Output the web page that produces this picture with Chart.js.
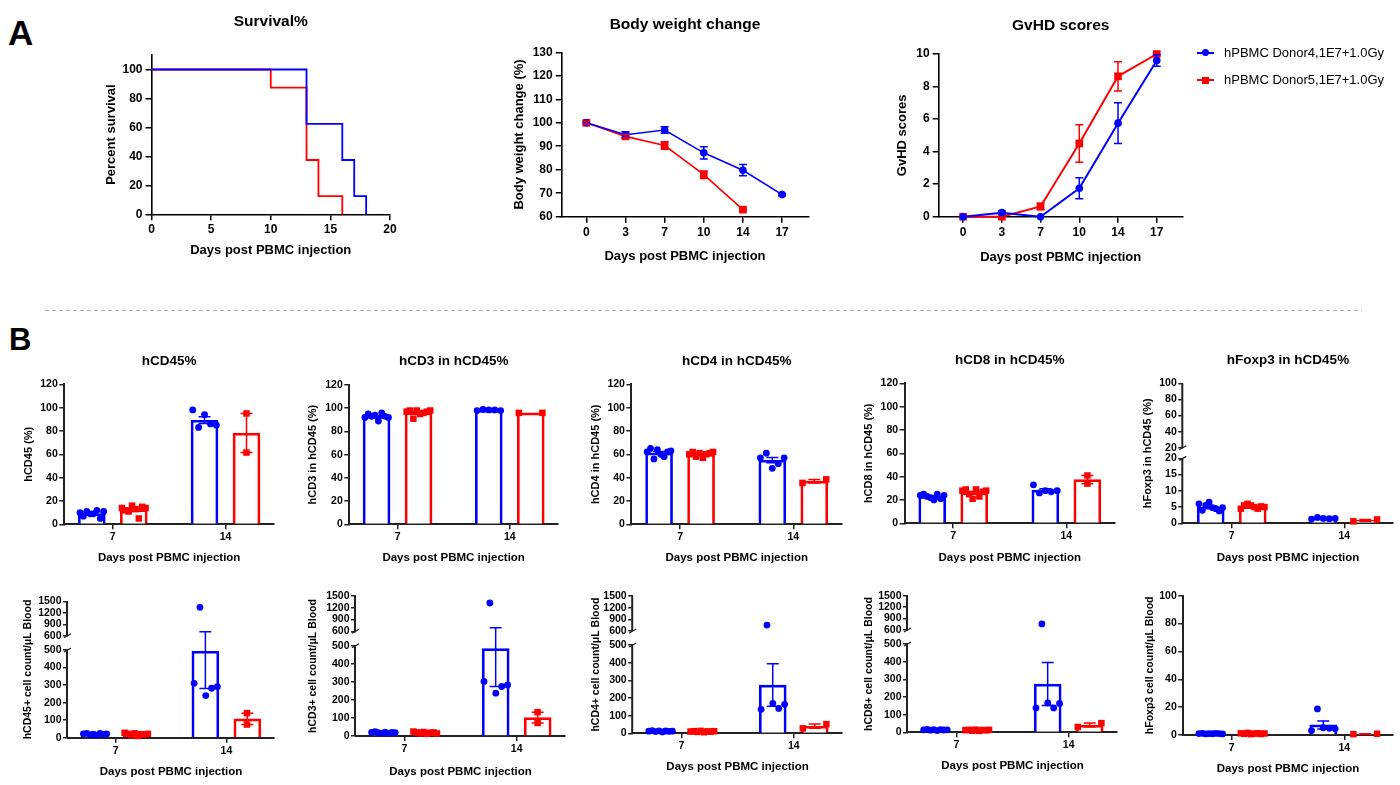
<!DOCTYPE html>
<html>
<head>
<meta charset="utf-8">
<script src="https://cdn.jsdelivr.net/npm/chart.js@4.4.1/dist/chart.umd.min.js"></script>
<style>
  html, body { margin: 0; padding: 0; background: #fff; }
  body { width: 1400px; height: 785px; position: relative; overflow: hidden;
         font-family: 'Liberation Sans', Arial, Helvetica, sans-serif; }
  canvas { position: absolute; }
  .tag { position: absolute; font-weight: bold; color: #000; }
  .leg { position: absolute; left: 1197px; height: 16px; }
  .leg .ln { position: absolute; left: 0; top: 7px; width: 17px; height: 2px; }
  .leg .mk { position: absolute; left: 5px; top: 4.5px; width: 7px; height: 7px; }
  .leg .tx { position: absolute; left: 27px; top: 0; font-size: 13px; line-height: 16px; white-space: nowrap; color: #000; }
  #sep { position: absolute; left: 45px; top: 310px; width: 1317px; height: 1px;
         background: repeating-linear-gradient(to right, #b4b4b4 0 4px, transparent 4px 7px); }
</style>
</head>
<body>
<div class="tag" style="left:8px;top:15px;font-size:35px;line-height:35px;">A</div>
<div class="tag" style="left:9px;top:324px;font-size:31px;line-height:31px;">B</div>
<div id="sep"></div>
<script>
const BLUE = 'rgb(0,0,255)';
const RED = 'rgb(255,0,0)';
const groupNames = ['hPBMC Donor4,1E7+1.0Gy', 'hPBMC Donor5,1E7+1.0Gy'];

// ---- A: survival (Kaplan-Meier steps) ----
const survTicksX = [0, 5, 10, 15, 20];
const survTicksY = [0, 20, 40, 60, 80, 100];
const survDaysBlue = [0, 13, 16, 17, 18];
const survPctBlue = [100, 62.5, 37.5, 12.5, 0];
const survDaysRed = [0, 10, 13, 14, 16];
const survPctRed = [100, 87.5, 37.5, 12.5, 0];

// ---- A: body weight and GvHD score by day ----
const days = ['0', '3', '7', '10', '14', '17'];
const weightTicks = [60, 70, 80, 90, 100, 110, 120, 130];
const weightBlue = [100, 94.9, 96.9, 87.2, 79.8, 69.4];
const weightBlueSem = [0, 1.3, 1.4, 2.6, 2.4, 0.5];
const weightRed = [100, 94.2, 90.3, 77.9, 63.0];
const weightRedSem = [0.6, 0.8, 1.6, 1.6, 0.6];
const gvhdTicks = [0, 2, 4, 6, 8, 10];
const gvhdBlue = [0, 0.25, 0, 1.75, 5.75, 9.6];
const gvhdBlueSem = [0, 0.1, 0, 0.65, 1.25, 0.35];
const gvhdRed = [0, 0, 0.63, 4.5, 8.63, 10];
const gvhdRedSem = [0, 0, 0.2, 1.15, 0.9, 0];

// ---- B: individual mice, [day 7, day 14] ----
const sampleDays = ['7', '14'];
const pctTicks = [0, 20, 40, 60, 80, 100, 120];
const cd45PctBlue = [[10, 7, 11, 9, 9, 12, 5, 11], [98, 83, 94, 86, 85]];
const cd45PctRed = [[14, 12, 11, 16, 13, 5, 15, 14], [95, 61.5]];
const cd3PctBlue = [[92, 95, 93, 94, 89, 96, 93, 92], [98, 99, 98.5, 98.5, 98]];
const cd3PctRed = [[97, 98, 91, 98, 95, 96, 97, 98], [96, 96]];
const cd4PctBlue = [[62, 65, 56, 64, 60, 58, 62, 63], [57, 61, 48, 52, 57]];
const cd4PctRed = [[60, 62, 58, 61, 57, 60, 61, 62], [35.5, 38.5]];
const cd8PctBlue = [[24, 25, 23, 22, 20, 25, 21, 24], [33, 26, 28, 27, 28]];
const cd8PctRed = [[28, 29, 25, 21, 29, 23, 27, 28], [41, 34]];
const foxpPctTicksLow = [0, 5, 10, 15, 20];
const foxpPctTicksHigh = [20, 40, 60, 80, 100];
const foxpPctBlue = [[6, 4, 5.5, 6.5, 4.8, 4.5, 3.8, 4.8], [1.3, 1.8, 1.5, 1.4, 1.5]];
const foxpPctRed = [[4.5, 5.5, 6, 5.5, 5, 4.5, 5.2, 5], [0.6, 1.2]];

const countTicksLow = [0, 100, 200, 300, 400, 500];
const countTicksHigh = [600, 900, 1200, 1500];
const cd45CntBlue = [[22, 25, 18, 20, 15, 24, 19, 21], [310, 1343, 240, 282, 291]];
const cd45CntRed = [[28, 22, 15, 25, 10, 20, 18, 22], [140, 75]];
const cd3CntBlue = [[20, 24, 18, 15, 22, 14, 20, 19], [302, 1321, 237, 274, 283]];
const cd3CntRed = [[25, 20, 15, 22, 12, 18, 20, 14], [132, 72]];
const cd4CntBlue = [[12, 15, 10, 14, 8, 13, 11, 12], [136, 754, 170, 141, 164]];
const cd4CntRed = [[10, 12, 8, 14, 6, 11, 9, 12], [28, 52]];
const cd8CntBlue = [[14, 16, 12, 15, 10, 15, 13, 14], [138, 760, 166, 138, 163]];
const cd8CntRed = [[12, 14, 9, 15, 8, 13, 11, 14], [30, 52]];
const foxpCntTicks = [0, 20, 40, 60, 80, 100];
const foxpCntBlue = [[1, 1.2, 0.8, 1, 0.9, 1.1, 1, 0.8], [3.2, 18.7, 5.2, 4.8, 4.4]];
const foxpCntRed = [[1.2, 0.8, 1.5, 0.6, 1, 1.3, 0.7, 1.1], [0.6, 0.9]];

// ---------------------------------------------------------------
const FONT = "'Liberation Sans', Arial, Helvetica, sans-serif";
Chart.defaults.font.family = FONT;
Chart.defaults.color = '#000';

// y scale with a gap: lower part [min, breakLow], upper part [breakHigh, max]
class BrokenScale extends Chart.LinearScale {
  getPixelForValue(value) {
    if (value === null || value === undefined || isNaN(value)) return NaN;
    const o = this.options;
    const span = this.bottom - this.top - o.breakGap;
    const lowH = span * o.lowFraction;
    const highH = span - lowH;
    if (value <= o.breakLow) return this.bottom - (value - this.min) / (o.breakLow - this.min) * lowH;
    if (value < o.breakHigh) return this.bottom - lowH - (value - o.breakLow) / (o.breakHigh - o.breakLow) * o.breakGap;
    return this.top + highH - (value - o.breakHigh) / (this.max - o.breakHigh) * highH;
  }
  getValueForPixel(pixel) {
    const o = this.options;
    const span = this.bottom - this.top - o.breakGap;
    const lowH = span * o.lowFraction;
    const highH = span - lowH;
    const d = this.bottom - pixel;
    if (d <= lowH) return this.min + d / lowH * (o.breakLow - this.min);
    if (d <= lowH + o.breakGap) return o.breakLow;
    return o.breakHigh + (d - lowH - o.breakGap) / highH * (this.max - o.breakHigh);
  }
}
BrokenScale.id = 'broken';
BrokenScale.defaults = Chart.LinearScale.defaults;
Chart.register(BrokenScale);

// error bars (mean +/- sem) for datasets carrying an `errors` array
const errorBars = {
  id: 'errorBars',
  afterDatasetsDraw(chart) {
    const ctx = chart.ctx;
    chart.data.datasets.forEach((ds, i) => {
      if (!ds.errors) return;
      const meta = chart.getDatasetMeta(i);
      const ys = chart.scales[meta.yAxisID];
      ctx.save();
      ctx.strokeStyle = ds.borderColor;
      ctx.lineWidth = 1.5;
      ctx.beginPath();
      meta.data.forEach((el, j) => {
        const e = ds.errors[j];
        if (!e) return;
        const m = ds.data[j].y;
        const yTop = ys.getPixelForValue(m + e);
        const yBot = ys.getPixelForValue(m - e);
        const c = ds.errCap;
        ctx.moveTo(el.x, yTop); ctx.lineTo(el.x, yBot);
        ctx.moveTo(el.x - c, yTop); ctx.lineTo(el.x + c, yTop);
        ctx.moveTo(el.x - c, yBot); ctx.lineTo(el.x + c, yBot);
      });
      ctx.stroke();
      ctx.restore();
    });
  }
};

// axis line of a broken y scale, drawn in two pieces
const brokenAxis = {
  id: 'brokenAxis',
  afterDraw(chart) {
    const s = chart.scales.y;
    if (!(s instanceof BrokenScale)) return;
    const o = s.options;
    const ctx = chart.ctx;
    const x = s.right - o.axisWidth / 2;
    const yLo = s.getPixelForValue(o.breakLow);
    const yHi = s.getPixelForValue(o.breakHigh + 1e-6);
    ctx.save();
    ctx.strokeStyle = o.axisColor;
    ctx.lineWidth = o.axisWidth;
    ctx.beginPath();
    ctx.moveTo(x, s.bottom); ctx.lineTo(x, yLo);
    ctx.moveTo(x, yHi); ctx.lineTo(x, s.top);
    ctx.stroke();
    ctx.lineWidth = 1.3;
    ctx.beginPath();
    ctx.moveTo(x - 3, yLo + 2); ctx.lineTo(x + 4, yLo - 2);
    ctx.moveTo(x - 3, yHi + 2); ctx.lineTo(x + 4, yHi - 2);
    ctx.stroke();
    ctx.restore();
  }
};
Chart.register(errorBars, brokenAxis);

const styleA = {tickSize: 12, tickLen: 6, tickWidth: 1.5, axisColor: '#000', axisWidth: 1.6, xTickPad: 2.5, yTickPad: 3};
const styleB = {tickSize: 10.5, tickLen: 5, tickWidth: 1.5, axisColor: '#222', axisWidth: 2, xTickPad: 2, yTickPad: 1.5};

function buildPanel(p) {
  const st = p.style;
  const ts = p.titleSize || 0;
  const x0 = Math.floor(p.yTitleX - 0.6 * p.yTitleSize - 2);
  const y0 = p.title ? Math.floor(p.titleY - 0.6 * ts - 2) : Math.floor(p.plot.t - 12);
  const x1 = Math.ceil(p.plot.r + 20);
  const y1 = Math.ceil(p.xTitleY + 0.6 * p.xTitleSize + 2);
  const canvas = document.createElement('canvas');
  canvas.width = x1 - x0;
  canvas.height = y1 - y0;
  Object.assign(canvas.style, {left: x0 + 'px', top: y0 + 'px', width: (x1 - x0) + 'px', height: (y1 - y0) + 'px'});
  document.body.appendChild(canvas);

  const yW = p.plot.l - x0;
  const xH = y1 - p.plot.b;
  const titlePadTop = p.title ? p.titleY - y0 - 0.6 * ts : 0;
  const titlePadBottom = p.title ? (p.plot.t - y0) - 1.2 * ts - titlePadTop : 0;
  const grid = {drawOnChartArea: false, drawTicks: true, tickLength: st.tickLen, color: st.axisColor, lineWidth: st.tickWidth, offset: false};
  const tickFont = {size: st.tickSize, weight: 'bold'};

  const yScale = {
    type: p.brk ? 'broken' : 'linear', min: p.yMin, max: p.yMax,
    afterBuildTicks: ax => { ax.ticks = p.yTicks.map(v => ({value: v})); },
    afterFit: ax => { ax.width = yW; },
    border: {display: !p.brk, color: st.axisColor, width: st.axisWidth},
    grid: grid,
    ticks: {font: tickFont, padding: st.yTickPad, autoSkip: false, callback: v => String(Math.round(v))},
    title: {display: true, text: p.yTitle, font: {size: p.yTitleSize, weight: 'bold'},
            padding: {top: p.yTitleX - x0 - 0.6 * p.yTitleSize, bottom: 0}}
  };
  if (p.brk) {
    Object.assign(yScale, {breakLow: p.brk.low, breakHigh: p.brk.high, breakGap: p.brk.gap,
                           lowFraction: p.brk.frac, axisColor: st.axisColor, axisWidth: st.axisWidth});
  }
  const xScale = {
    type: 'linear', min: p.xMin, max: p.xMax, offset: false,
    afterBuildTicks: ax => { ax.ticks = p.xTicks.map(v => ({value: v})); },
    afterFit: ax => { ax.height = xH; },
    border: {display: true, color: st.axisColor, width: st.axisWidth},
    grid: grid,
    ticks: {font: tickFont, padding: st.xTickPad, autoSkip: false, maxRotation: 0, callback: p.xLabel},
    title: {display: true, text: p.xTitle, font: {size: p.xTitleSize, weight: 'bold'},
            padding: {top: 0, bottom: y1 - p.xTitleY - 0.6 * p.xTitleSize}}
  };
  return new Chart(canvas, {
    type: p.type,
    data: {datasets: p.datasets},
    options: {
      responsive: false, animation: false, events: [],
      layout: {padding: {left: 0, right: x1 - p.plot.r, top: p.title ? 0 : p.plot.t - y0, bottom: 0}},
      scales: {x: xScale, y: yScale},
      plugins: {
        legend: {display: false}, tooltip: {enabled: false},
        title: {display: !!p.title, text: p.title || '', fullSize: false,
                font: {size: ts, weight: 'bold'}, padding: {top: titlePadTop, bottom: titlePadBottom}}
      }
    }
  });
}

// ---------------- row A ----------------
const stepLine = (xs, ys, color) => ({
  type: 'line', data: xs.map((d, i) => ({x: d, y: ys[i]})), borderColor: color,
  borderWidth: 1.8, stepped: true, pointRadius: 0, fill: false, clip: false
});
buildPanel({
  type: 'line', style: styleA,
  plot: {l: 151.5, t: 55, r: 390, b: 214.3},
  title: 'Survival%', titleSize: 15.5, titleY: 22,
  xTitle: 'Days post PBMC injection', xTitleSize: 13, xTitleY: 250,
  yTitle: 'Percent survival', yTitleSize: 13, yTitleX: 111.7,
  xMin: 0, xMax: 20, xTicks: survTicksX, xLabel: v => String(v),
  yMin: 0, yMax: 110, yTicks: survTicksY,
  datasets: [stepLine(survDaysBlue, survPctBlue, BLUE), stepLine(survDaysRed, survPctRed, RED)]
});

const markerLine = (vals, errs, color, style, radius, width) => ({
  type: 'line', data: vals.map((v, i) => ({x: i, y: v})), errors: errs, errCap: 4,
  borderColor: color, backgroundColor: color, borderWidth: width, pointStyle: style,
  pointRadius: radius, pointBorderWidth: 0, fill: false, clip: false
});
buildPanel({
  type: 'line', style: styleA,
  plot: {l: 561.7, t: 52.3, r: 808.3, b: 216.7},
  title: 'Body weight change', titleSize: 15.5, titleY: 25,
  xTitle: 'Days post PBMC injection', xTitleSize: 13, xTitleY: 256.7,
  yTitle: 'Body weight change (%)', yTitleSize: 13, yTitleX: 519.3,
  xMin: -0.63, xMax: 5.67, xTicks: days.map((d, i) => i), xLabel: v => days[v],
  yMin: 60, yMax: 130, yTicks: weightTicks,
  datasets: [markerLine(weightBlue, weightBlueSem, BLUE, 'circle', 3.8, 1.6),
             markerLine(weightRed, weightRedSem, RED, 'rect', 5.4, 1.6)]
});
buildPanel({
  type: 'line', style: styleA,
  plot: {l: 938.7, t: 54, r: 1182.7, b: 216.7},
  title: 'GvHD scores', titleSize: 15.5, titleY: 26,
  xTitle: 'Days post PBMC injection', xTitleSize: 13, xTitleY: 257,
  yTitle: 'GvHD scores', yTitleSize: 13, yTitleX: 902.7,
  xMin: -0.63, xMax: 5.67, xTicks: days.map((d, i) => i), xLabel: v => days[v],
  yMin: 0, yMax: 10, yTicks: gvhdTicks,
  datasets: [markerLine(gvhdBlue, gvhdBlueSem, BLUE, 'circle', 3.8, 2),
             markerLine(gvhdRed, gvhdRedSem, RED, 'rect', 5.4, 2)]
});

// legend
[BLUE, RED].forEach((c, i) => {
  const d = document.createElement('div');
  d.className = 'leg';
  d.style.top = (44.7 + i * 27.3) + 'px';
  d.innerHTML = '<div class="ln" style="background:' + c + '"></div>' +
    '<div class="mk" style="background:' + c + ';border-radius:' + (i === 0 ? '50%' : '0') + '"></div>' +
    '<div class="tx">' + groupNames[i] + '</div>';
  document.body.appendChild(d);
});

// ---------------- row B ----------------
const BAR_OFF = 0.186;
const SPREAD = 0.105;
const mean = a => a.reduce((s, v) => s + v, 0) / a.length;
const sem = a => {
  const m = mean(a);
  return Math.sqrt(a.reduce((s, v) => s + (v - m) * (v - m), 0) / (a.length - 1) / a.length);
};
function spreadX(vals, center, pxPerUnit) {
  const n = vals.length;
  if (n === 1 || (n === 2 && Math.abs(vals[0] - vals[1]) * pxPerUnit > 7)) return vals.map(() => center);
  return vals.map((v, i) => center + (-1 + 2 * i / (n - 1)) * SPREAD);
}
function groupSets(blue, red, pxPerUnit) {
  const dots = (groups, side, color, style, r) => ({
    type: 'scatter', clip: false, pointStyle: style, pointRadius: r,
    backgroundColor: color, borderColor: color, borderWidth: 0,
    data: groups.flatMap((g, gi) => {
      const xs = spreadX(g, gi + side * BAR_OFF, pxPerUnit);
      return g.map((v, k) => ({x: xs[k], y: v}));
    })
  });
  const bars = (groups, color) => ({
    type: 'bar', clip: false, data: groups.map((g, gi) => ({x: gi, y: mean(g)})),
    errors: groups.map(sem), errCap: 6,
    backgroundColor: '#fff', borderColor: color, borderWidth: 2.7,
    barThickness: 42, maxBarThickness: 27
  });
  return [dots(blue, -1, BLUE, 'circle', 3.4), dots(red, 1, RED, 'rect', 4.6),
          bars(blue, BLUE), bars(red, RED)];
}
function barPanel(cfg) {
  const pl = cfg.plot;
  const yMin = cfg.yMin || 0;
  let ppu;
  if (cfg.brk) ppu = (pl.b - pl.t - cfg.brk.gap) * cfg.brk.frac / (cfg.brk.low - yMin);
  else ppu = (pl.b - pl.t) / (cfg.yMax - yMin);
  buildPanel(Object.assign({
    type: 'bar', style: styleB,
    xTitle: 'Days post PBMC injection', xTitleSize: 11.5,
    xMin: -0.43, xMax: 1.43, xTicks: [0, 1], xLabel: v => sampleDays[v],
    yMin: yMin, datasets: groupSets(cfg.blue, cfg.red, ppu)
  }, cfg));
}

const pctBase = {titleSize: 13.5, yTitleSize: 11, yMax: 120, yTicks: pctTicks};
barPanel(Object.assign({}, pctBase, {
  title: 'hCD45%', yTitle: 'hCD45 (%)', blue: cd45PctBlue, red: cd45PctRed,
  plot: {l: 64.3, t: 384.3, r: 274, b: 524.3}, titleY: 361.7, xTitleY: 558, yTitleX: 29}));
barPanel(Object.assign({}, pctBase, {
  title: 'hCD3 in hCD45%', yTitle: 'hCD3 in hCD45 (%)', blue: cd3PctBlue, red: cd3PctRed,
  plot: {l: 349.3, t: 385, r: 558, b: 524.3}, titleY: 361.7, xTitleY: 558.3, yTitleX: 313.3}));
barPanel(Object.assign({}, pctBase, {
  title: 'hCD4 in hCD45%', yTitle: 'hCD4 in hCD45 (%)', blue: cd4PctBlue, red: cd4PctRed,
  plot: {l: 631.4, t: 384.3, r: 842, b: 524.3}, titleY: 361, xTitleY: 558.3, yTitleX: 595.7}));
barPanel(Object.assign({}, pctBase, {
  title: 'hCD8 in hCD45%', yTitle: 'hCD8 in hCD45 (%)', blue: cd8PctBlue, red: cd8PctRed,
  plot: {l: 904.6, t: 383.3, r: 1115, b: 523.3}, titleY: 360.3, xTitleY: 557.7, yTitleX: 869}));
barPanel({
  title: 'hFoxp3 in hCD45%', titleSize: 13.5, yTitle: 'hFoxp3 in hCD45 (%)', yTitleSize: 11,
  blue: foxpPctBlue, red: foxpPctRed,
  plot: {l: 1183.3, t: 383.3, r: 1392.7, b: 523.3}, titleY: 360, xTitleY: 557.7, yTitleX: 1147.7,
  yMax: 100, brk: {low: 20, high: 20, gap: 10.6, frac: 0.502},
  yTicks: foxpPctTicksLow.concat(foxpPctTicksHigh.map(v => v === 20 ? v + 1e-6 : v))
});

const countTicks = countTicksLow.concat(countTicksHigh);
const cntBase = {yTitleSize: 10.5, yMax: 1500, yTicks: countTicks};
barPanel(Object.assign({}, cntBase, {
  yTitle: 'hCD45+ cell count/μL Blood', blue: cd45CntBlue, red: cd45CntRed,
  plot: {l: 68, t: 601.3, r: 274, b: 737.7}, xTitleY: 771.7, yTitleX: 28.6,
  brk: {low: 500, high: 600, gap: 14.3, frac: 0.718}}));
barPanel(Object.assign({}, cntBase, {
  yTitle: 'hCD3+ cell count/μL Blood', blue: cd3CntBlue, red: cd3CntRed,
  plot: {l: 356, t: 596, r: 565, b: 736}, xTitleY: 771.7, yTitleX: 313.6,
  brk: {low: 500, high: 600, gap: 14.4, frac: 0.719}}));
barPanel(Object.assign({}, cntBase, {
  yTitle: 'hCD4+ cell count/μL Blood', blue: cd4CntBlue, red: cd4CntRed,
  plot: {l: 633.2, t: 596, r: 842, b: 733.3}, xTitleY: 766.7, yTitleX: 595.7,
  brk: {low: 500, high: 600, gap: 14, frac: 0.716}}));
barPanel(Object.assign({}, cntBase, {
  yTitle: 'hCD8+ cell count/μL Blood', blue: cd8CntBlue, red: cd8CntRed,
  plot: {l: 908, t: 595.7, r: 1117, b: 732.3}, xTitleY: 766, yTitleX: 869,
  brk: {low: 500, high: 600, gap: 14, frac: 0.72}}));
barPanel({
  yTitle: 'hFoxp3 cell count/μL Blood', yTitleSize: 10.5, blue: foxpCntBlue, red: foxpCntRed,
  plot: {l: 1183.3, t: 595.7, r: 1392.7, b: 735}, xTitleY: 769.3, yTitleX: 1150,
  yMax: 100, yTicks: foxpCntTicks
});
</script>
</body>
</html>
